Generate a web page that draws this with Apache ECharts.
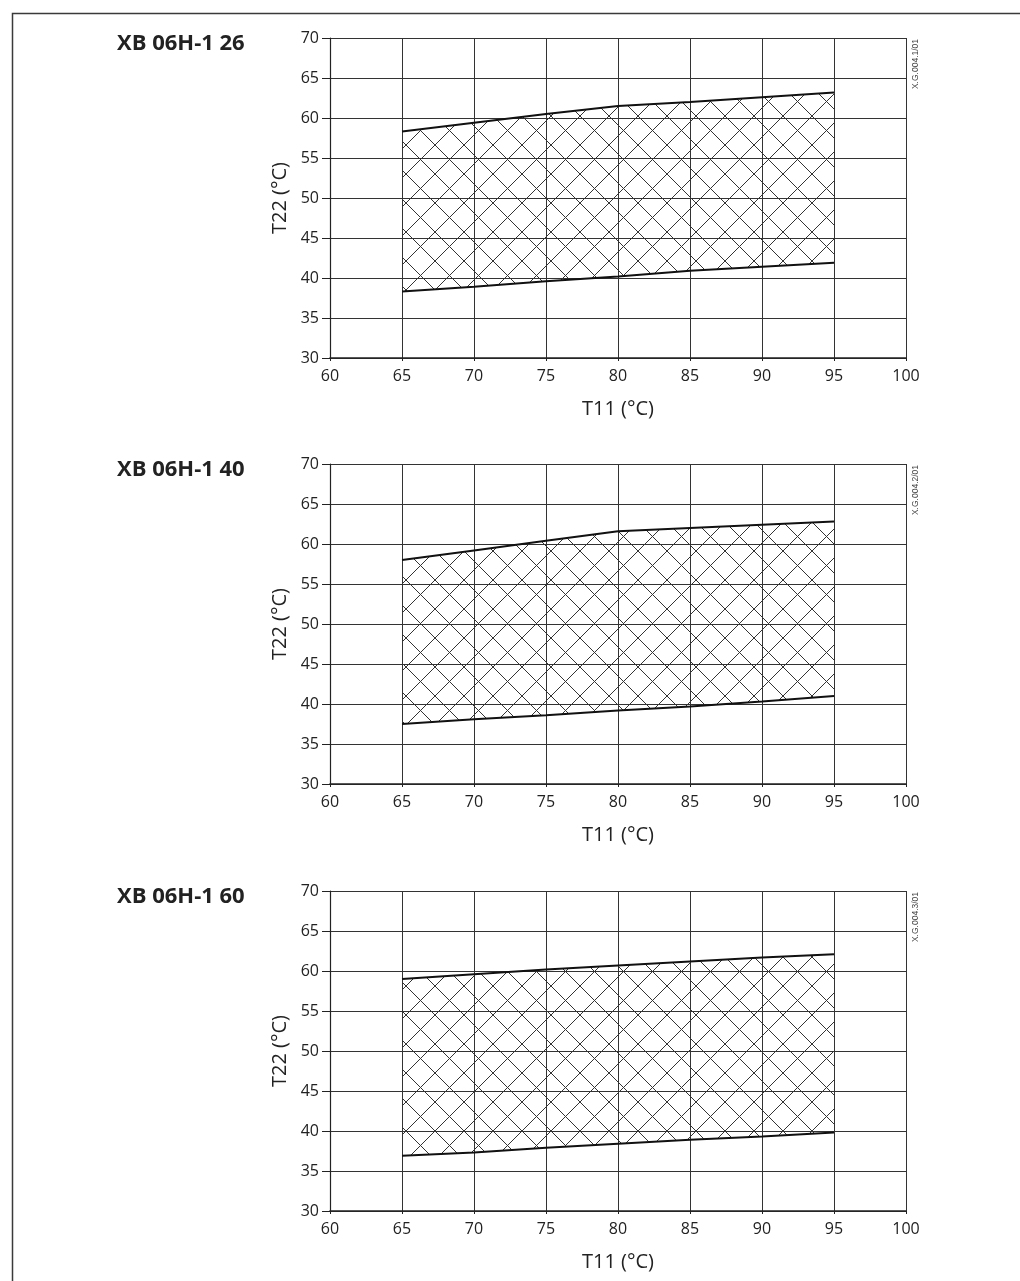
<!DOCTYPE html>
<html>
<head>
<meta charset="utf-8">
<script src="https://cdn.jsdelivr.net/npm/echarts@6/dist/echarts.min.js"></script>
<style>
html,body{margin:0;padding:0;background:#fff;}
#c{width:1020px;height:1281px;}
</style>
</head>
<body>
<div id="c"></div>
<script>
// ---- data ----
var titles = ['XB 06H-1 26', 'XB 06H-1 40', 'XB 06H-1 60'];
var codes = ['X.G.004.1/01', 'X.G.004.2/01', 'X.G.004.3/01'];
var xTemps = [65, 70, 75, 80, 85, 90, 95];
var upper1 = [58.3, 59.4, 60.5, 61.5, 62.0, 62.6, 63.2];
var lower1 = [38.3, 38.9, 39.6, 40.2, 40.9, 41.4, 41.9];
var upper2 = [58.0, 59.2, 60.4, 61.6, 62.0, 62.4, 62.8];
var lower2 = [37.5, 38.1, 38.6, 39.2, 39.7, 40.3, 41.0];
var upper3 = [59.0, 59.6, 60.2, 60.7, 61.2, 61.7, 62.1];
var lower3 = [36.9, 37.3, 37.9, 38.4, 38.9, 39.3, 39.8];
var uppers = [upper1, upper2, upper3];
var lowers = [lower1, lower2, lower3];
var xAxisName = 'T11 (°C)';
var yAxisName = 'T22 (°C)';

// ---- hatch pattern ----
var P = 29;
var pc = document.createElement('canvas');
pc.width = P; pc.height = P;
var ctx = pc.getContext('2d');
ctx.strokeStyle = '#333';
ctx.lineWidth = 1;
ctx.beginPath();
ctx.moveTo(-1, -1); ctx.lineTo(P + 1, P + 1);
ctx.moveTo(P + 1, -1); ctx.lineTo(-1, P + 1);
ctx.stroke();

var chart = echarts.init(document.getElementById('c'), null, {renderer: 'canvas'});
var tops = [38, 464, 891];
var font = '"Open Sans", "Noto Sans", sans-serif';
var grids = [], xAxes = [], yAxes = [], series = [], titleArr = [], graphics = [];

graphics.push({
  type: 'rect', left: 10, top: 11, silent: true,
  shape: {width: 1100, height: 1400},
  style: {fill: 'none', stroke: '#3a3a3a', lineWidth: 1.5}
});

function makeBand(lo, up) {
  return function (params, api) {
    var pts = [];
    for (var k = 0; k < xTemps.length; k++) pts.push(api.coord([xTemps[k], up[k]]));
    for (var k2 = xTemps.length - 1; k2 >= 0; k2--) pts.push(api.coord([xTemps[k2], lo[k2]]));
    return {
      type: 'polygon',
      shape: {points: pts},
      style: {fill: {image: pc, repeat: 'repeat'}, stroke: 'none'}
    };
  };
}

for (var i = 0; i < 3; i++) {
  grids.push({left: 330, top: tops[i], width: 576, height: 320, containLabel: false});
  xAxes.push({
    type: 'value', gridIndex: i, min: 60, max: 100, interval: 5,
    name: xAxisName, nameLocation: 'middle', nameGap: 41,
    nameTextStyle: {fontFamily: font, fontSize: 20, color: '#222'},
    axisLine: {show: true, lineStyle: {color: '#222', width: 1.6}},
    axisTick: {show: true, length: 3, lineStyle: {color: '#222'}},
    axisLabel: {fontFamily: font, fontSize: 16, color: '#222', margin: 10},
    splitLine: {show: true, lineStyle: {color: '#333', width: 1}}
  });
  yAxes.push({
    type: 'value', gridIndex: i, min: 30, max: 70, interval: 5,
    name: yAxisName, nameLocation: 'middle', nameGap: 38,
    nameTextStyle: {fontFamily: font, fontSize: 20, color: '#222'},
    axisLine: {show: true, lineStyle: {color: '#222', width: 1.2}},
    axisTick: {show: true, length: 8, lineStyle: {color: '#222'}},
    axisLabel: {fontFamily: font, fontSize: 16, color: '#222', margin: 11},
    splitLine: {show: true, lineStyle: {color: '#333', width: 1}}
  });
  var lo = lowers[i], up = uppers[i];
  series.push({
    type: 'custom', xAxisIndex: i, yAxisIndex: i,
    data: [[xTemps[0], lo[0]]],
    renderItem: makeBand(lo, up), silent: true, z: 2
  });
  series.push({
    type: 'line', xAxisIndex: i, yAxisIndex: i,
    data: xTemps.map(function (x, k) { return [x, lo[k]]; }),
    symbol: 'none', lineStyle: {color: '#111', width: 2}, z: 3
  });
  series.push({
    type: 'line', xAxisIndex: i, yAxisIndex: i,
    data: xTemps.map(function (x, k) { return [x, up[k]]; }),
    symbol: 'none', lineStyle: {color: '#111', width: 2}, z: 3
  });
  titleArr.push({
    text: titles[i], left: 112, top: tops[i] - 10,
    textStyle: {fontFamily: font, fontSize: 22, fontWeight: 'bold', color: '#222'}
  });
  graphics.push({
    type: 'text', x: 916, y: tops[i] + 26, rotation: Math.PI / 2,
    style: {text: codes[i], fontFamily: '"Liberation Sans", sans-serif', fontSize: 8.5, fill: '#444',
            align: 'center', verticalAlign: 'middle'}
  });
}

chart.setOption({
  animation: false,
  backgroundColor: '#fff',
  title: titleArr,
  grid: grids,
  xAxis: xAxes,
  yAxis: yAxes,
  series: series,
  graphic: graphics
});
</script>
</body>
</html>
